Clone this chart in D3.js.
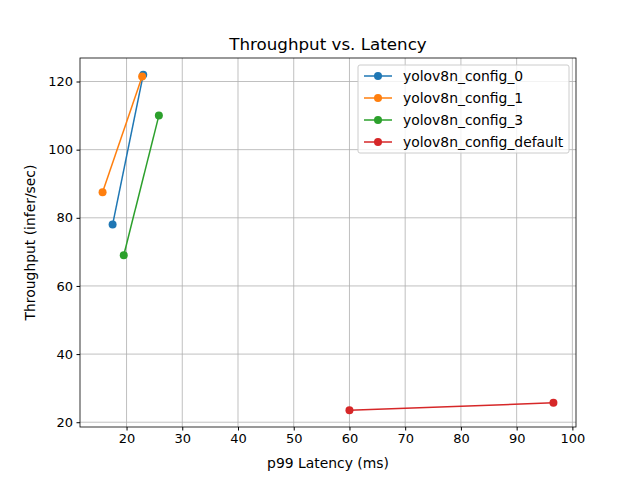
<!DOCTYPE html>
<html><head><meta charset="utf-8">
<script src="https://cdn.jsdelivr.net/npm/d3@7"></script>
<style>body{margin:0;background:#fff;font-family:"DejaVu Sans",sans-serif;}</style>
</head><body><div id="chart"></div>
<script>
var seriesNames = ["yolov8n_config_0", "yolov8n_config_1", "yolov8n_config_3", "yolov8n_config_default"];
var latency = [[17.5, 23.0], [15.7, 22.8], [19.5, 25.8], [60.0, 96.6]];
var throughput = [[78.0, 122.0], [87.5, 121.5], [69.0, 110.0], [23.5, 25.7]];
var colors = ["#1f77b4", "#ff7f0e", "#2ca02c", "#d62728"];
var xTicks = [20, 30, 40, 50, 60, 70, 80, 90, 100];
var yTicks = [20, 40, 60, 80, 100, 120];

var svgWidth = 640, svgHeight = 480;
var margin = {top: 58, right: 64, bottom: 53, left: 80};
var width = svgWidth - margin.left - margin.right;
var height = svgHeight - margin.top - margin.bottom;

var svg = d3.select("#chart").append("svg")
  .attr("width", svgWidth).attr("height", svgHeight);
var g = svg.append("g").attr("transform", `translate(${margin.left}, ${margin.top})`);

var xs = d3.scaleLinear().domain([11.65, 100.65]).range([0, width]);
var ys = d3.scaleLinear().domain([18.6, 126.9]).range([height, 0]);

// grid
g.selectAll(".gx").data(xTicks).enter().append("line")
  .attr("x1", d => xs(d)).attr("x2", d => xs(d)).attr("y1", 0).attr("y2", height)
  .attr("stroke", "#b0b0b0").attr("stroke-width", 0.8);
g.selectAll(".gy").data(yTicks).enter().append("line")
  .attr("y1", d => ys(d)).attr("y2", d => ys(d)).attr("x1", 0).attr("x2", width)
  .attr("stroke", "#b0b0b0").attr("stroke-width", 0.8);

var xAxis = g.append("g").attr("transform", `translate(0, ${height})`)
  .call(d3.axisBottom(xs).tickValues(xTicks).tickSize(3.5).tickPadding(3.5));
var yAxis = g.append("g")
  .call(d3.axisLeft(ys).tickValues(yTicks).tickSize(3.5).tickPadding(3.5));
[xAxis, yAxis].forEach(a => {
  a.selectAll("text").attr("font-size", "13px").attr("font-family", "DejaVu Sans").attr("fill", "#000");
  a.select(".domain").remove();
});

g.append("rect").attr("width", width).attr("height", height)
  .attr("fill", "none").attr("stroke", "#000").attr("stroke-width", 0.8);

var line = d3.line().x(d => xs(d[0])).y(d => ys(d[1]));
seriesNames.forEach(function(name, i) {
  var pts = latency[i].map((x, j) => [x, throughput[i][j]]);
  g.append("path").datum(pts).attr("d", line)
    .attr("fill", "none").attr("stroke", colors[i]).attr("stroke-width", 1.5);
  g.selectAll(".p" + i).data(pts).enter().append("circle")
    .attr("cx", d => xs(d[0])).attr("cy", d => ys(d[1])).attr("r", 4)
    .attr("fill", colors[i]);
});

// titles
svg.append("text").attr("x", margin.left + width / 2).attr("y", 50)
  .attr("text-anchor", "middle").attr("font-size", "16.7px").text("Throughput vs. Latency");
svg.append("text").attr("x", margin.left + width / 2).attr("y", 468)
  .attr("text-anchor", "middle").attr("font-size", "13.9px").text("p99 Latency (ms)");
svg.append("text").attr("transform", `translate(35, ${margin.top + height / 2}) rotate(-90)`)
  .attr("text-anchor", "middle").attr("font-size", "13.9px").text("Throughput (infer/sec)");

// legend
var lg = g.append("g").attr("transform", `translate(${width - 218}, 7)`);
lg.append("rect").attr("width", 211).attr("height", 88).attr("rx", 2)
  .attr("fill", "#fff").attr("fill-opacity", 0.8).attr("stroke", "#ccc");
seriesNames.forEach(function(name, i) {
  var y = 11 + i * 22;
  lg.append("line").attr("x1", 6).attr("x2", 34).attr("y1", y).attr("y2", y)
    .attr("stroke", colors[i]).attr("stroke-width", 1.5);
  lg.append("circle").attr("cx", 20).attr("cy", y).attr("r", 4).attr("fill", colors[i]);
  lg.append("text").attr("x", 45).attr("y", y + 5).attr("font-size", "13.9px").text(name);
});
</script></body></html>
